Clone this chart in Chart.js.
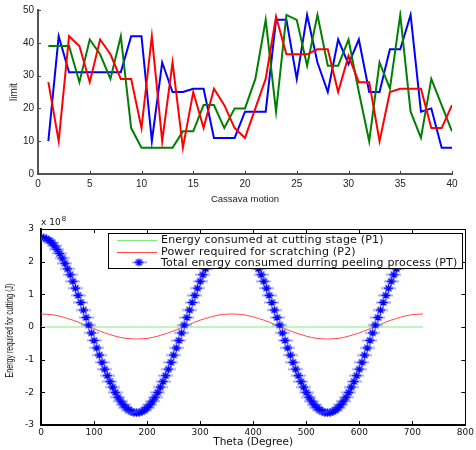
<!DOCTYPE html>
<html>
<head>
<meta charset="utf-8">
<script src="https://cdn.jsdelivr.net/npm/chart.js@4.4.0/dist/chart.umd.min.js"></script>
<style>
  html, body { margin: 0; padding: 0; background: #fff; }
  canvas { position: absolute; left: 0; }
  #c1 { top: 0; }
  #c2 { top: 212px; }
</style>
</head>
<body>
<canvas id="c1" width="476" height="210" style="width:476px;height:210px"></canvas>
<canvas id="c2" width="476" height="238" style="width:476px;height:238px"></canvas>
<script>
// ---------- Top chart data ----------
const cassavaMotion = [1,2,3,4,5,6,7,8,9,10,11,12,13,14,15,16,17,18,19,20,21,22,23,24,25,26,27,28,29,30,31,32,33,34,35,36,37,38,39,40];
const blueLimit  = [10,42,31,31,31,31,31,31,42,42,10,34,25,25,26,26,11,11,11,19,19,19,47,47,29,48.5,34,25,41,33.5,41,25,25,38,38,48.5,19,20,8,8];
const redLimit   = [28,10,42,39,28,41,36.5,29,29,14,42,10,34,8,25,14,26,21,14,11,20,29,48,36.5,36.5,36.5,38,38,25,36,28,28,10,25,26,26,26,14,14,21];
const greenLimit = [39,39,39,28,41,36.5,29,42,14,8,8,8,8,13,13,21,21,14,20,20,29,47,19,48.5,47,33,48.5,33,33,41,25,10,34,26,48.5,19,11,29,21,13];
const topXTicks = [0,5,10,15,20,25,30,35,40];
const topYTicks = [0,10,20,30,40,50];

// ---------- Bottom chart data (values in units of 10^8 J) ----------
const theta10 = [0,10,20,30,40,50,60,70,80,90,100,110,120,130,140,150,160,170,180,190,200,210,220,230,240,250,260,270,280,290,300,310,320,330,340,350,360,370,380,390,400,410,420,430,440,450,460,470,480,490,500,510,520,530,540,550,560,570,580,590,600,610,620,630,640,650,660,670,680,690,700,710,720];
const energyP1 = [0,0,0,0,0,0,0,0,0,0,0,0,0,0,0,0,0,0,0,0,0,0,0,0,0,0,0,0,0,0,0,0,0,0,0,0,0,0,0,0,0,0,0,0,0,0,0,0,0,0,0,0,0,0,0,0,0,0,0,0,0,0,0,0,0,0,0,0,0,0,0,0,0];
const powerP2 = [0.40,0.39,0.38,0.35,0.31,0.26,0.21,0.15,0.08,0.02,-0.05,-0.12,-0.18,-0.23,-0.28,-0.32,-0.35,-0.36,-0.37,-0.36,-0.35,-0.32,-0.28,-0.23,-0.18,-0.12,-0.05,0.02,0.08,0.15,0.21,0.26,0.31,0.35,0.38,0.39,0.40,
  0.39,0.38,0.35,0.31,0.26,0.21,0.15,0.08,0.02,-0.05,-0.12,-0.18,-0.23,-0.28,-0.32,-0.35,-0.36,-0.37,-0.36,-0.35,-0.32,-0.28,-0.23,-0.18,-0.12,-0.05,0.02,0.08,0.15,0.21,0.26,0.31,0.35,0.38,0.39,0.40];
const theta5 = [0,5,10,15,20,25,30,35,40,45,50,55,60,65,70,75,80,85,90,95,100,105,110,115,120,125,130,135,140,145,150,155,160,165,170,175,180,185,190,195,200,205,210,215,220,225,230,235,240,245,250,255,260,265,270,275,280,285,290,295,300,305,310,315,320,325,330,335,340,345,350,355,360,
  365,370,375,380,385,390,395,400,405,410,415,420,425,430,435,440,445,450,455,460,465,470,475,480,485,490,495,500,505,510,515,520,525,530,535,540,545,550,555,560,565,570,575,580,585,590,595,600,605,610,615,620,625,630,635,640,645,650,655,660,665,670,675,680,685,690,695,700,705,710,715,720];
const totalPT = [2.74,2.73,2.70,2.65,2.58,2.49,2.38,2.25,2.11,1.95,1.78,1.60,1.40,1.19,0.97,0.75,0.52,0.29,0.06,-0.18,-0.41,-0.64,-0.86,-1.08,-1.29,-1.49,-1.67,-1.84,-2.00,-2.15,-2.27,-2.38,-2.47,-2.54,-2.59,-2.62,-2.63,
  -2.62,-2.59,-2.54,-2.47,-2.38,-2.27,-2.15,-2.00,-1.84,-1.67,-1.49,-1.29,-1.08,-0.86,-0.64,-0.41,-0.18,0.06,0.29,0.52,0.75,0.97,1.19,1.40,1.60,1.78,1.95,2.11,2.25,2.38,2.49,2.58,2.65,2.70,2.73,2.74,
  2.73,2.70,2.65,2.58,2.49,2.38,2.25,2.11,1.95,1.78,1.60,1.40,1.19,0.97,0.75,0.52,0.29,0.06,-0.18,-0.41,-0.64,-0.86,-1.08,-1.29,-1.49,-1.67,-1.84,-2.00,-2.15,-2.27,-2.38,-2.47,-2.54,-2.59,-2.62,-2.63,
  -2.62,-2.59,-2.54,-2.47,-2.38,-2.27,-2.15,-2.00,-1.84,-1.67,-1.49,-1.29,-1.08,-0.86,-0.64,-0.41,-0.18,0.06,0.29,0.52,0.75,0.97,1.19,1.40,1.60,1.78,1.95,2.11,2.25,2.38,2.49,2.58,2.65,2.70,2.73,2.74];
const legendLabels = ['Energy consumed at cutting stage (P1)', 'Power required for scratching (P2)', 'Total energy consumed durring peeling process (PT)'];

// ---------- helpers ----------
function pts(xs, ys) { return xs.map((x, i) => ({ x: x, y: ys[i] })); }

function makeStarMarker() {
  const c = document.createElement('canvas');
  c.width = 15; c.height = 9;
  const g = c.getContext('2d');
  g.strokeStyle = 'rgba(80,100,255,0.55)';
  g.lineWidth = 2;
  g.beginPath(); g.moveTo(0, 4.5); g.lineTo(15, 4.5); g.stroke();
  g.strokeStyle = '#0000ff';
  g.lineWidth = 1.3;
  g.beginPath();
  g.moveTo(7.5, 0.5); g.lineTo(7.5, 8.5);
  g.moveTo(4.5, 1.5); g.lineTo(10.5, 7.5);
  g.moveTo(10.5, 1.5); g.lineTo(4.5, 7.5);
  g.moveTo(3, 4.5); g.lineTo(12, 4.5);
  g.stroke();
  return c;
}
const starMarker = makeStarMarker();

const innerTicks = {
  id: 'innerTicks',
  afterDraw(chart, args, opts) {
    const { ctx, chartArea: a, scales } = chart;
    const L = opts.len;
    ctx.save();
    ctx.strokeStyle = opts.color;
    ctx.lineWidth = 1;
    ctx.beginPath();
    scales.x.ticks.forEach(t => {
      const px = Math.round(scales.x.getPixelForValue(t.value)) + 0.5;
      ctx.moveTo(px, a.bottom); ctx.lineTo(px, a.bottom - L);
      if (opts.box) { ctx.moveTo(px, a.top); ctx.lineTo(px, a.top + L); }
    });
    scales.y.ticks.forEach(t => {
      const py = Math.round(scales.y.getPixelForValue(t.value)) + 0.5;
      ctx.moveTo(a.left, py); ctx.lineTo(a.left + L, py);
      if (opts.box) { ctx.moveTo(a.right, py); ctx.lineTo(a.right - L, py); }
    });
    if (opts.box) {
      ctx.moveTo(a.left, Math.round(a.top) + 0.5); ctx.lineTo(a.right, Math.round(a.top) + 0.5);
      ctx.moveTo(Math.round(a.right) + 0.5, a.top); ctx.lineTo(Math.round(a.right) + 0.5, a.bottom);
    }
    ctx.stroke();
    ctx.restore();
  }
};

// ---------- Top chart ----------
new Chart(document.getElementById('c1'), {
  type: 'line',
  data: {
    datasets: [
      { label: 'blue', data: pts(cassavaMotion, blueLimit), borderColor: '#0000ff', borderWidth: 2, pointRadius: 0, tension: 0, order: 2 },
      { label: 'green', data: pts(cassavaMotion, greenLimit), borderColor: '#008000', borderWidth: 2, pointRadius: 0, tension: 0, order: 1 },
      { label: 'red', data: pts(cassavaMotion, redLimit), borderColor: '#ff0000', borderWidth: 2, pointRadius: 0, tension: 0, order: 0 }
    ]
  },
  options: {
    responsive: false, animation: false, devicePixelRatio: 1,
    layout: { padding: { top: 9, right: 24, left: 0, bottom: 0 } },
    plugins: { legend: { display: false }, tooltip: { enabled: false }, innerTicks: { len: 3, color: '#444', box: false } },
    scales: {
      x: {
        type: 'linear', min: 0, max: 40,
        afterBuildTicks: s => { s.ticks = topXTicks.map(v => ({ value: v })); },
        ticks: { font: { family: 'Liberation Sans', size: 10 }, color: '#222', padding: 4, maxRotation: 0, autoSkip: false },
        grid: { display: false, drawTicks: false },
        border: { display: true, color: '#555', width: 2 },
        title: { display: true, text: 'Cassava motion', font: { family: 'Liberation Sans', size: 9.5 }, color: '#222', padding: { top: 0, bottom: 5 } },
        afterFit: s => { s.height = 36; }
      },
      y: {
        type: 'linear', min: 0, max: 50,
        afterBuildTicks: s => { s.ticks = topYTicks.map(v => ({ value: v })); },
        ticks: { font: { family: 'Liberation Sans', size: 10 }, color: '#222', padding: 4 },
        grid: { display: false, drawTicks: false },
        border: { display: true, color: '#555', width: 2 },
        title: { display: true, text: 'limit', font: { family: 'Liberation Sans', size: 10 }, color: '#222', padding: { top: 8, bottom: 0 } },
        afterFit: s => { s.width = 38; }
      }
    }
  },
  plugins: [innerTicks]
});

// ---------- Bottom chart ----------
const bottomDecor = {
  id: 'bottomDecor',
  afterDraw(chart) {
    const { ctx, chartArea: a } = chart;
    ctx.save();
    // exponent label
    ctx.fillStyle = '#111';
    ctx.textBaseline = 'alphabetic';
    ctx.textAlign = 'left';
    ctx.font = '9px "DejaVu Sans"';
    ctx.fillText('x 10', 41, 13);
    const w = ctx.measureText('x 10').width;
    ctx.font = '7px "DejaVu Sans"';
    ctx.fillText('8', 41 + w + 1, 9);
    // y axis title (condensed)
    ctx.font = '10px "Liberation Sans"';
    const t = 'Energy required for cutting (J)';
    const tw = ctx.measureText(t).width;
    ctx.translate(10, 118.5);
    ctx.rotate(-Math.PI / 2);
    ctx.scale(94 / tw, 1);
    ctx.textAlign = 'center';
    ctx.textBaseline = 'middle';
    ctx.fillText(t, 0, 0);
    ctx.restore();

    // legend
    ctx.save();
    const bx = 108.5, by = 21.5, bw = 354, bh = 35;
    ctx.fillStyle = '#fff';
    ctx.fillRect(bx, by, bw, bh);
    ctx.strokeStyle = '#000';
    ctx.lineWidth = 1;
    ctx.strokeRect(bx, by, bw, bh);
    const rows = [28, 39.7, 50.3];
    const ds = chart.data.datasets;
    ctx.font = '11px "DejaVu Sans"';
    try { ctx.letterSpacing = '0.2px'; } catch (e) {}
    ctx.textBaseline = 'middle';
    ctx.textAlign = 'left';
    for (let i = 0; i < 3; i++) {
      const y = rows[i];
      const d = ds[i];
      if (i < 2) {
        ctx.strokeStyle = d.borderColor;
        ctx.lineWidth = 1;
        ctx.beginPath(); ctx.moveTo(117, Math.round(y) + 0.5); ctx.lineTo(157, Math.round(y) + 0.5); ctx.stroke();
      } else {
        ctx.drawImage(starMarker, 139 - 7.5, y - 4.5);
      }
      ctx.fillStyle = '#111';
      ctx.fillText(legendLabels[i], 161, y + 0.5);
    }
    ctx.restore();
  }
};

new Chart(document.getElementById('c2'), {
  type: 'line',
  data: {
    datasets: [
      { label: legendLabels[0], data: pts(theta10, energyP1), borderColor: '#80e880', borderWidth: 1, pointRadius: 0, tension: 0, order: 2 },
      { label: legendLabels[1], data: pts(theta10, powerP2), borderColor: '#ff4848', borderWidth: 1, pointRadius: 0, tension: 0, order: 1 },
      { label: legendLabels[2], data: pts(theta5, totalPT), showLine: false, pointStyle: starMarker, pointRadius: 5, borderColor: '#0000ff', backgroundColor: '#0000ff', order: 0 }
    ]
  },
  options: {
    responsive: false, animation: false, devicePixelRatio: 1,
    layout: { padding: { top: 17, right: 10, left: 0, bottom: 0 } },
    plugins: { legend: { display: false }, tooltip: { enabled: false }, innerTicks: { len: 4, color: '#000', box: true } },
    scales: {
      x: {
        type: 'linear', min: 0, max: 800,
        ticks: { stepSize: 100, font: { family: 'DejaVu Sans', size: 9 }, color: '#111', padding: 2, maxRotation: 0, autoSkip: false },
        grid: { display: false, drawTicks: false },
        border: { display: true, color: '#000', width: 2 },
        title: { display: true, text: 'Theta (Degree)', font: { family: 'DejaVu Sans', size: 10.5 }, color: '#111', padding: { top: 0, bottom: 1.5 } },
        afterFit: s => { s.height = 25; }
      },
      y: {
        type: 'linear', min: -3, max: 3,
        ticks: { stepSize: 1, font: { family: 'DejaVu Sans', size: 9 }, color: '#111', padding: 7 },
        grid: { display: false, drawTicks: false },
        border: { display: true, color: '#000', width: 2 },
        afterFit: s => { s.width = 41; }
      }
    }
  },
  plugins: [innerTicks, bottomDecor]
});
</script>
</body>
</html>
